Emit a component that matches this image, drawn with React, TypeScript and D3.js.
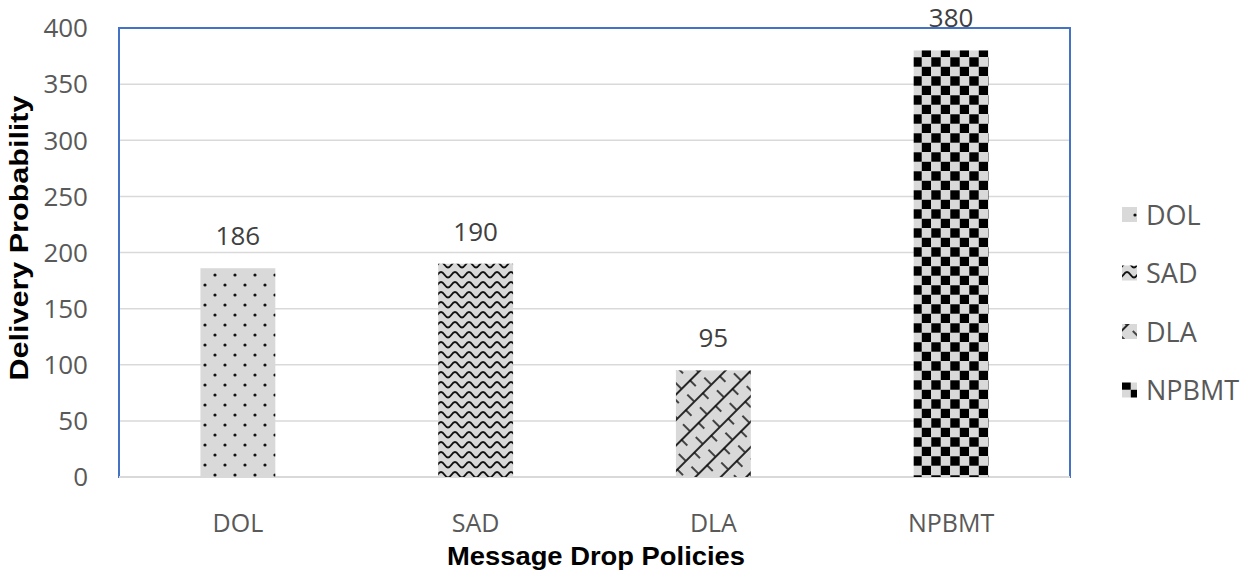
import * as d3 from "d3";

const categories = ["DOL", "SAD", "DLA", "NPBMT"];
const values = [186, 190, 95, 380];
const yTicks = [0, 50, 100, 150, 200, 250, 300, 350, 400];

const patternIds: Record<string, string> = {
  DOL: "pat-dol",
  SAD: "pat-sad",
  DLA: "pat-dla",
  NPBMT: "pat-npbmt",
};

function Patterns() {
  return (
    <defs>
      <pattern id="pat-dol" width={20} height={20} patternUnits="userSpaceOnUse">
        <rect width={20} height={20} fill="#d9d9d9" />
        <circle cx={5} cy={5} r={1.6} fill="#111" />
        <circle cx={15} cy={15} r={1.6} fill="#111" />
      </pattern>
      <pattern id="pat-sad" width={14} height={10} patternUnits="userSpaceOnUse">
        <rect width={14} height={10} fill="#d9d9d9" />
        <path
          d="M0,7.5 C3,7.5 4,2 7,2 C10,2 11,7.5 14,7.5"
          fill="none"
          stroke="#111"
          strokeWidth={2}
        />
      </pattern>
      <pattern
        id="pat-dla"
        width={24}
        height={18}
        patternUnits="userSpaceOnUse"
        patternTransform="rotate(-45)"
      >
        <rect width={24} height={18} fill="#d9d9d9" />
        <line x1={0} x2={24} y1={1} y2={1} stroke="#111" strokeWidth={1.8} />
        <line x1={3} x2={3} y1={0} y2={9} stroke="#111" strokeWidth={1.5} />
        <line x1={15} x2={15} y1={9} y2={18} stroke="#111" strokeWidth={1.5} />
      </pattern>
      <pattern id="pat-npbmt" width={19} height={19} patternUnits="userSpaceOnUse">
        <rect width={19} height={19} fill="#d9d9d9" />
        <rect x={0.3} y={0.3} width={9.4} height={9.4} fill="#000" />
        <rect x={9.8} y={9.8} width={9.4} height={9.4} fill="#000" />
      </pattern>
    </defs>
  );
}

export default function App() {
  const width = 1250;
  const height = 577;
  const plot = { left: 119, right: 1070, top: 28, bottom: 477 };

  const x = d3
    .scaleBand<string>()
    .domain(categories)
    .range([plot.left, plot.right])
    .paddingInner(0.685)
    .paddingOuter(0.3425);
  const y = d3.scaleLinear().domain([0, 400]).range([plot.bottom, plot.top]);

  const tickFont = "'Open Sans', sans-serif";
  const titleFont = "'Liberation Sans', Arial, sans-serif";

  return (
    <svg
      width={width}
      height={height}
      style={{ position: "absolute", left: 0, top: 0, background: "#fff" }}
    >
      <Patterns />

      {yTicks.map((t) => (
        <g key={`y-${t}`}>
          <line x1={plot.left} x2={plot.right} y1={y(t)} y2={y(t)} stroke="#d9d9d9" strokeWidth={1.5} />
          <text
            x={88}
            y={y(t)}
            dy="0.36em"
            textAnchor="end"
            fontFamily={tickFont}
            fontSize={26}
            fill="#595959"
          >
            {t}
          </text>
        </g>
      ))}

      {/* plot area border */}
      <rect
        x={plot.left}
        y={plot.top}
        width={plot.right - plot.left}
        height={plot.bottom - plot.top}
        fill="none"
        stroke="#4472c4"
        strokeWidth={2}
      />
      <line x1={plot.left} x2={plot.right} y1={y(0)} y2={y(0)} stroke="#d9d9d9" strokeWidth={2} />

      {categories.map((c, i) => (
        <g key={c}>
          <rect
            x={x(c)}
            y={y(values[i])}
            width={x.bandwidth()}
            height={y(0) - y(values[i])}
            fill={`url(#${patternIds[c]})`}
          />
          <text
            x={(x(c) ?? 0) + x.bandwidth() / 2}
            y={y(values[i]) - 23}
            textAnchor="middle"
            fontFamily={tickFont}
            fontSize={26}
            fill="#404040"
          >
            {values[i]}
          </text>
          <text
            x={(x(c) ?? 0) + x.bandwidth() / 2}
            y={532}
            textAnchor="middle"
            fontFamily={tickFont}
            fontSize={25}
            fill="#595959"
          >
            {c}
          </text>
        </g>
      ))}

      <text
        x={596}
        y={565}
        textAnchor="middle"
        fontFamily={titleFont}
        fontWeight="bold"
        fontSize={26}
        textLength={298}
        lengthAdjust="spacingAndGlyphs"
        fill="#000"
      >
        Message Drop Policies
      </text>
      <text
        transform={`translate(28,238) rotate(-90)`}
        textAnchor="middle"
        fontFamily={titleFont}
        fontWeight="bold"
        fontSize={26}
        textLength={285}
        lengthAdjust="spacingAndGlyphs"
        fill="#000"
      >
        Delivery Probability
      </text>

      {categories.map((c, i) => {
        const cy = 215 + i * 58.5;
        return (
          <g key={`leg-${c}`}>
            <rect x={1122} y={cy - 8} width={15} height={15} fill={`url(#${patternIds[c]})`} />
            <text x={1146} y={cy} dy="0.36em" fontFamily={tickFont} fontSize={27} fill="#595959">
              {c}
            </text>
          </g>
        );
      })}
    </svg>
  );
}
